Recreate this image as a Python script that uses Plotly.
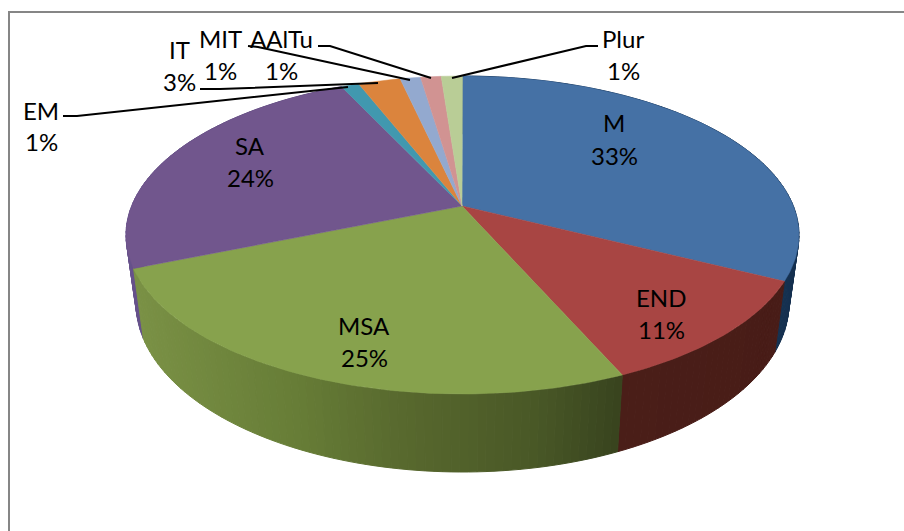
import math
import plotly.graph_objects as go

# ---- data ----
categories = ["M", "END", "MSA", "SA", "EM", "IT", "MIT", "AAlTu", "Plur"]
values = [33.0, 10.9, 24.4, 25.7, 0.9, 2.1, 1.0, 1.0, 1.0]
percent_labels = ["33%", "11%", "25%", "24%", "1%", "3%", "1%", "1%", "1%"]

# ---- styling ----
top_colors = ["#4571A5", "#A84543", "#87A24D", "#71568D", "#4198AF",
              "#DB843D", "#93A9CF", "#D19392", "#B9CD96"]
side_ramps = {
    "M": [(600, "#1B3A5E"), (800, "#15304F")],
    "END": [(620, "#4A1E18"), (790, "#481C17")],
    "MSA": [(134, "#7A9145"), (300, "#667C36"), (400, "#58692E"),
            (540, "#485726"), (622, "#38431E")],
    "SA": [(100, "#6A5590"), (200, "#5E4A80")],
}
label_pos = {
    "M": (614, 122, 155), "END": (661, 297, 329), "MSA": (364, 325, 357),
    "SA": (250, 145, 177), "EM": (41, 110, 141), "IT": (179, 49, 81),
    "MIT": (220, 38, 70), "AAlTu": (281, 38, 70), "Plur": (623, 38, 70),
}
leaders = {
    "Plur": [(452, 78), (586, 46), (598, 46)],
    "AAlTu": [(431, 78), (330, 46), (318, 46)],
    "MIT": [(410, 80), (258, 47), (248, 46)],
    "IT": [(378, 83), (220, 89), (200, 89)],
    "EM": [(348, 87), (77, 116), (63, 116)],
}
FONT = "Lato"
FONT_SIZE = 24

# ---- projection of the tilted disc onto the page ----
AX, AY = 462, 206            # apex of the wedges
TX, TY, TRX, TRY = 462.5, 235, 336.5, 159   # top rim
BX, BY, BRX, BRY = 462.5, 303, 326.5, 169   # bottom rim


def rim_param(theta):
    ky = 132 if math.cos(theta) > 0 else 143
    dx, dy = TRX * math.sin(theta), -ky * math.cos(theta)
    px, py = (AX - TX) / TRX, (AY - TY) / TRY
    qx, qy = dx / TRX, dy / TRY
    a = qx * qx + qy * qy
    b = 2 * (px * qx + py * qy)
    c = px * px + py * py - 1
    s = (-b + math.sqrt(b * b - 4 * a * c)) / (2 * a)
    return math.atan2(px + s * qx, -(py + s * qy)) % (2 * math.pi)


def top_pt(t):
    return TX + TRX * math.sin(t), TY - TRY * math.cos(t)


def bot_pt(t):
    return BX + BRX * math.sin(t), BY - BRY * math.cos(t)


def ramp_color(ramp, x):
    def rgb(h):
        return [int(h[i:i + 2], 16) for i in (1, 3, 5)]
    if x <= ramp[0][0]:
        return ramp[0][1]
    for (x0, c0), (x1, c1) in zip(ramp, ramp[1:]):
        if x <= x1:
            f = (x - x0) / (x1 - x0)
            a, b = rgb(c0), rgb(c1)
            return "#%02X%02X%02X" % tuple(round(p + (q - p) * f) for p, q in zip(a, b))
    return ramp[-1][1]


total = sum(values)
bounds = []
run = 0.0
for v in values:
    t0 = rim_param(2 * math.pi * run / total) if run > 0 else 0.0
    run += v
    t1 = rim_param(2 * math.pi * run / total) if run < total - 1e-9 else 2 * math.pi
    if t1 <= t0:
        t1 = 2 * math.pi
    bounds.append((t0, t1))

fig = go.Figure()

# side wall, back to front
quads = []
for name, (t0, t1) in zip(categories, bounds):
    if name not in side_ramps:
        continue
    n = max(2, int((t1 - t0) / math.radians(1.5)))
    for i in range(n):
        a = t0 + (t1 - t0) * i / n
        b = t0 + (t1 - t0) * (i + 1) / n
        m = (a + b) / 2
        quads.append((top_pt(m)[1], name, a, b, top_pt(m)[0]))
quads.sort(key=lambda q: q[0])
for _, name, a, b, xm in quads:
    pts = [top_pt(a), top_pt(b), bot_pt(b), bot_pt(a), top_pt(a)]
    col = ramp_color(side_ramps[name], xm)
    fig.add_trace(go.Scatter(x=[p[0] for p in pts], y=[p[1] for p in pts], mode="lines",
                             fill="toself", fillcolor=col, line=dict(color=col, width=1),
                             hoverinfo="skip", showlegend=False))

# top face wedges
for name, col, (t0, t1) in zip(categories, top_colors, bounds):
    n = max(4, int((t1 - t0) / math.radians(1)))
    arc = [top_pt(t0 + (t1 - t0) * i / n) for i in range(n + 1)]
    pts = [(AX, AY)] + arc + [(AX, AY)]
    fig.add_trace(go.Scatter(x=[p[0] for p in pts], y=[p[1] for p in pts], mode="lines",
                             fill="toself", fillcolor=col, line=dict(color=col, width=0.5),
                             name=name, hoverinfo="name", showlegend=False))

# leader lines
for name, pts in leaders.items():
    fig.add_trace(go.Scatter(x=[p[0] for p in pts], y=[p[1] for p in pts], mode="lines",
                             line=dict(color="#000000", width=2),
                             hoverinfo="skip", showlegend=False))

# labels
anns = []
for name, pct in zip(categories, percent_labels):
    x, y1, y2 = label_pos[name]
    for txt, y in ((name, y1), (pct, y2)):
        anns.append(dict(x=x, y=y, text=txt, showarrow=False, xanchor="center", yanchor="middle",
                         font=dict(family=FONT, size=FONT_SIZE, color="#000000")))

# frame (open on the right and bottom, as in the reference)
frame = dict(type="rect", x0=9, y0=12, x1=950, y1=600, line=dict(color="#868686", width=2),
             fillcolor="rgba(0,0,0,0)", layer="below")

fig.update_layout(
    width=904, height=531, margin=dict(l=0, r=0, t=0, b=0),
    paper_bgcolor="white", plot_bgcolor="white", showlegend=False,
    xaxis=dict(range=[0, 904], visible=False, fixedrange=True),
    yaxis=dict(range=[531, 0], visible=False, fixedrange=True),
    annotations=anns, shapes=[frame],
)
fig.write_html("out.html", config={"displayModeBar": False},
               post_script="document.body.style.margin='0';document.body.style.overflow='hidden';")
